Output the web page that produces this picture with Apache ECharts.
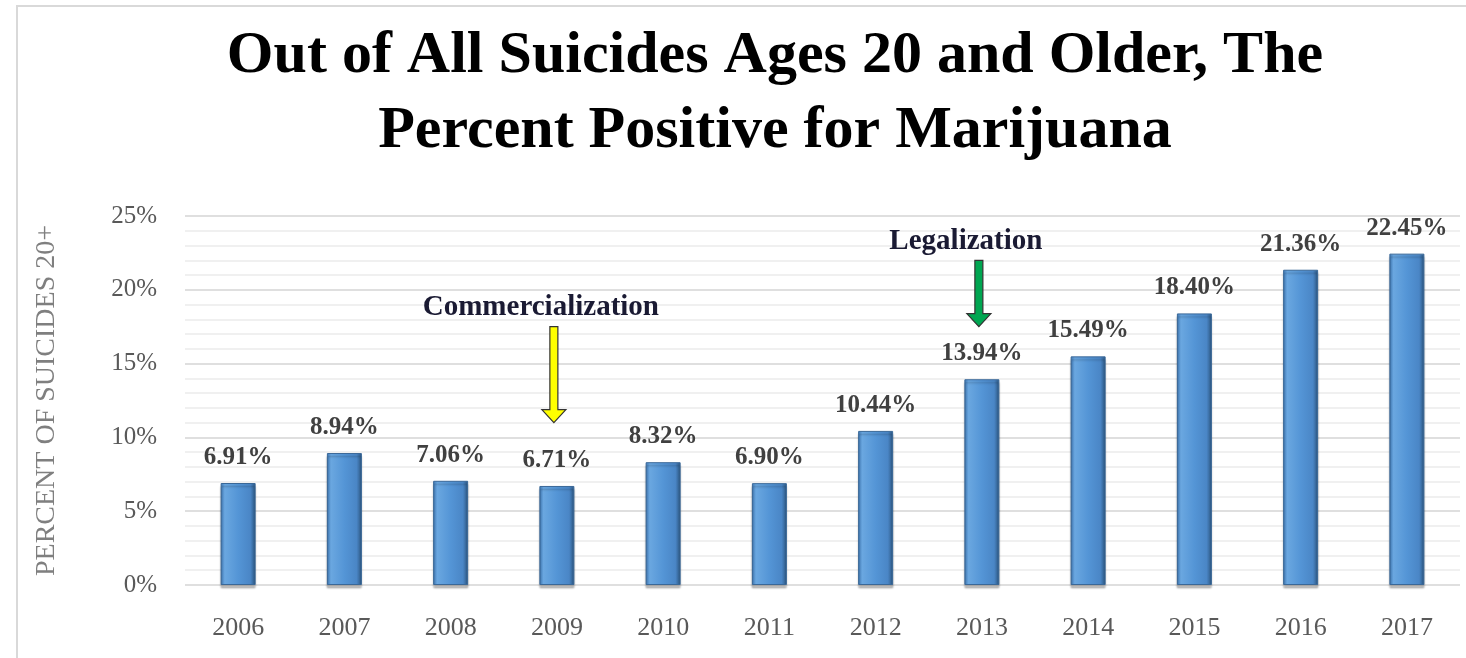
<!DOCTYPE html>
<html>
<head>
<meta charset="utf-8">
<script src="https://cdn.jsdelivr.net/npm/echarts@6/dist/echarts.min.js"></script>
<style>
  html, body { margin: 0; padding: 0; background: #fff; }
  #chart { width: 1466px; height: 658px; }
</style>
</head>
<body>
<div id="chart"></div>
<script>
// data
var years = ['2006', '2007', '2008', '2009', '2010', '2011', '2012', '2013', '2014', '2015', '2016', '2017'];
var pct = [6.91, 8.94, 7.06, 6.71, 8.32, 6.90, 10.44, 13.94, 15.49, 18.40, 21.36, 22.45];
var yTicks = [0, 5, 10, 15, 20, 25];

// annotations: category, label value, arrow top, arrow tip
var notes = [
    { name: 'Commercialization', cat: '2009', text: 18.8, top: 17.5, tip: 11.0, color: '#ffff00' },
    { name: 'Legalization', cat: '2013', text: 23.3, top: 22.0, tip: 17.5, color: '#00a651' }
];

var chart = echarts.init(document.getElementById('chart'));

var barColor = {
    type: 'linear', x: 0, y: 0, x2: 1, y2: 0,
    colorStops: [
        { offset: 0, color: '#3f78b5' },
        { offset: 0.12, color: '#6aa7e0' },
        { offset: 0.5, color: '#5495d6' },
        { offset: 0.85, color: '#4a86c6' },
        { offset: 1, color: '#2c5680' }
    ]
};

var serif = 'Liberation Serif';

var option = {
    animation: false,
    title: {
        text: 'Out of All Suicides Ages 20 and Older, The\nPercent Positive for Marijuana',
        left: 770,
        textAlign: 'center',
        top: 14,
        textStyle: {
            fontFamily: serif,
            fontWeight: 'bold',
            fontSize: 60,
            lineHeight: 75,
            color: '#000'
        }
    },
    grid: { left: 185, right: 6, top: 216, bottom: 73 },
    xAxis: {
        type: 'category',
        data: years,
        axisLine: { show: false },
        axisTick: { show: false },
        axisLabel: {
            margin: 30,
            fontFamily: serif,
            fontSize: 26,
            color: '#595959'
        }
    },
    yAxis: {
        type: 'value',
        min: yTicks[0],
        max: yTicks[yTicks.length - 1],
        interval: 5,
        name: 'PERCENT OF SUICIDES 20+',
        nameLocation: 'middle',
        nameGap: 124,
        nameTextStyle: {
            fontFamily: serif,
            fontSize: 28,
            color: '#7f7f7f'
        },
        axisLine: { show: false },
        axisTick: { show: false },
        axisLabel: {
            margin: 28,
            fontFamily: serif,
            fontSize: 25,
            color: '#595959',
            formatter: '{value}%'
        },
        splitLine: { lineStyle: { color: '#d4d4d4', width: 1.5 } },
        minorTick: { show: false, splitNumber: 5 },
        minorSplitLine: { show: true, lineStyle: { color: '#ebebeb', width: 1.5 } }
    },
    series: [{
        type: 'bar',
        data: pct,
        barWidth: 35,
        itemStyle: {
            color: barColor,
            borderColor: '#3a6898',
            borderWidth: 1,
            shadowColor: 'rgba(0,0,0,0.25)',
            shadowOffsetY: 3,
            shadowBlur: 2
        },
        label: {
            show: true,
            position: 'top',
            distance: 13,
            fontFamily: serif,
            fontWeight: 'bold',
            fontSize: 25,
            color: '#404040',
            formatter: function (p) { return p.value.toFixed(2) + '%'; }
        }
    }]
};

chart.setOption(option);

// frame, annotation texts and block arrows placed through the axes
var graphics = [{
    type: 'rect',
    shape: { x: 17, y: 6, width: 1460, height: 670 },
    style: { fill: 'none', stroke: '#d9d9d9', lineWidth: 2 },
    z: -1
}];

notes.forEach(function (n) {
    var t = chart.convertToPixel({ seriesIndex: 0 }, [n.cat, n.text]);
    var a = chart.convertToPixel({ seriesIndex: 0 }, [n.cat, n.top]);
    var b = chart.convertToPixel({ seriesIndex: 0 }, [n.cat, n.tip]);
    var x = a[0] - 3;
    var sw = 4, hw = 12, hh = 13;
    graphics.push({
        type: 'text',
        x: t[0] - 16,
        y: t[1],
        style: {
            text: n.name,
            fontFamily: serif,
            fontWeight: 'bold',
            fontSize: 29,
            fill: '#1a1a33',
            align: 'center',
            verticalAlign: 'middle'
        }
    });
    graphics.push({
        type: 'polygon',
        shape: {
            points: [
                [x - sw, a[1]], [x + sw, a[1]], [x + sw, b[1] - hh],
                [x + hw, b[1] - hh], [x, b[1]], [x - hw, b[1] - hh],
                [x - sw, b[1] - hh]
            ]
        },
        style: { fill: n.color, stroke: '#333', lineWidth: 1.2 },
        z: 10
    });
});

chart.setOption({ graphic: graphics });
</script>
</body>
</html>
